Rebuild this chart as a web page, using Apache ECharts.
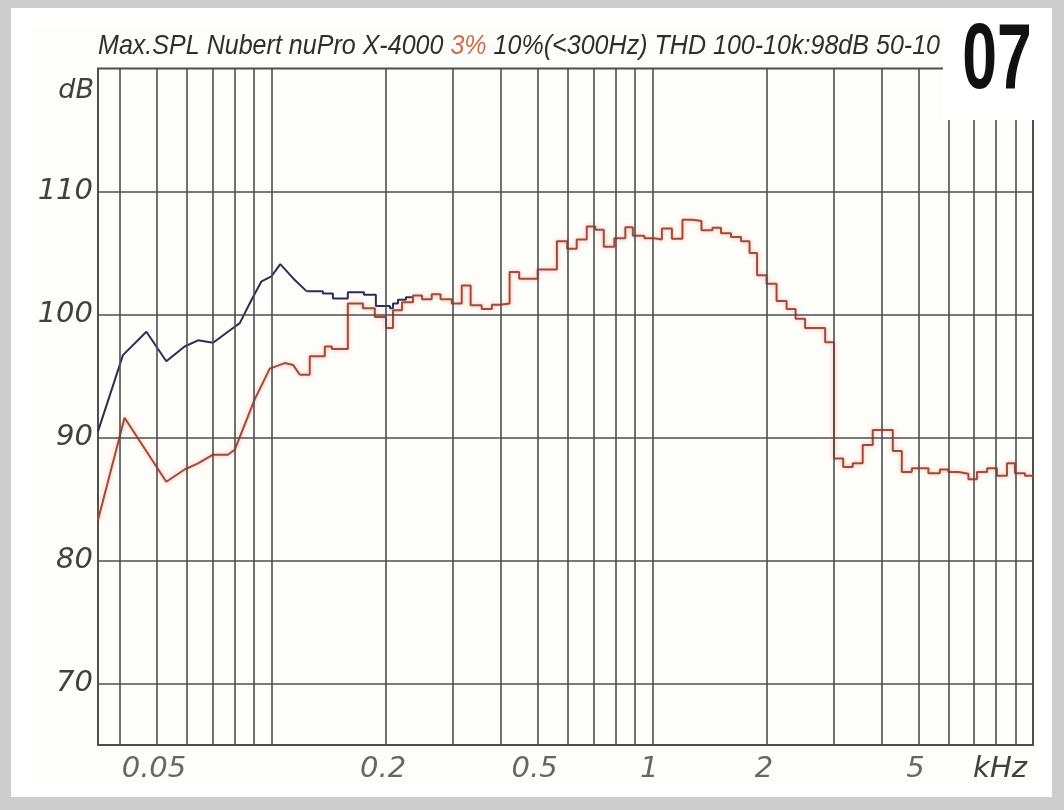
<!DOCTYPE html>
<html><head><meta charset="utf-8">
<script src="https://cdn.jsdelivr.net/npm/echarts@6/dist/echarts.min.js"></script>
<style>html,body{margin:0;padding:0;background:#cdcdcd}#c{width:1064px;height:810px}</style>
</head><body><div id="c"></div>
<script>
// ---- data (frequency in kHz, level in dB) ----
const navySweepFreq = [0.035, 0.0407, 0.0469, 0.0529, 0.0591, 0.0641, 0.0702, 0.0768, 0.0825, 0.0886, 0.0941, 0.0999, 0.1054, 0.1151, 0.1235];
const navySweepDb   = [90.5, 96.7, 98.6, 96.2, 97.4, 97.9, 97.7, 98.6, 99.3, 101.2, 102.7, 103.1, 104.1, 102.8, 101.9];
const navyStepFreq  = [0.1235, 0.1364, 0.1449, 0.1586, 0.1748, 0.1879, 0.2046, 0.2084, 0.2148, 0.2254, 0.2352];
const navyStepDb    = [101.9, 101.7, 101.3, 101.8, 101.6, 100.7, 100.5, 100.9, 101.2, 101.4, 101.5];

const redSweepFreq = [0.035, 0.0411, 0.0529, 0.0591, 0.0641, 0.0702, 0.0768, 0.0800, 0.0903, 0.0989, 0.1083, 0.1139, 0.1186];
const redSweepDb   = [83.3, 91.6, 86.4, 87.4, 87.9, 88.6, 88.6, 89.0, 93.1, 95.6, 96.05, 95.9, 95.1];
const redStepFreq = [0.1186, 0.1260, 0.1380, 0.1440, 0.1586, 0.1738, 0.1867, 0.1998, 0.2084, 0.2202,
  0.2352, 0.2484, 0.2634, 0.2779, 0.2974, 0.3159, 0.3333, 0.3563, 0.3790, 0.3986,
  0.4220, 0.4471, 0.5000, 0.5616, 0.5978, 0.6332, 0.6727, 0.7085, 0.7458, 0.7949,
  0.8495, 0.8890, 0.9533, 1.0128, 1.0599, 1.1261, 1.2002, 1.2751, 1.3465, 1.4392,
  1.5152, 1.6099, 1.7105, 1.8010, 1.8846, 1.9964, 2.1208, 2.2531, 2.3790, 2.5199,
  2.8451, 3.0010, 3.1730, 3.3606, 3.5703, 3.7937, 4.2829, 4.5230, 4.8050, 5.3114,
  5.6929, 5.9964, 6.3680, 6.7664, 7.1245, 7.5784, 8.0390, 8.5430, 8.9650, 9.5260, 10.0];
const redStepDb = [95.1, 96.6, 97.4, 97.2, 100.9, 100.5, 99.8, 98.9, 100.35, 101.0,
  101.55, 101.25, 101.65, 101.25, 100.9, 102.35, 100.75, 100.45, 100.8, 100.9,
  103.45, 102.9, 103.65, 105.95, 105.35, 106.1, 107.15, 106.9, 105.5, 106.2,
  107.1, 106.4, 106.2, 106.1, 107.0, 106.15, 107.7, 107.6, 106.85, 107.05,
  106.6, 106.3, 105.95, 105.0, 103.2, 102.5, 101.1, 100.45, 99.65, 98.9,
  97.75, 88.3, 87.6, 87.9, 89.4, 90.6, 88.9, 87.2, 87.5, 87.1,
  87.4, 87.2, 87.05, 86.6, 87.2, 87.5, 86.9, 87.9, 87.1, 86.9, 86.9];

const xGridFreqs = [0.04,0.05,0.06,0.07,0.08,0.09,0.1,0.2,0.3,0.4,0.5,0.6,0.7,0.8,0.9,1,2,3,4,5,6,7,8,9];
const yGridDb = [70, 80, 90, 100, 110];
const xTickVals = [0.05, 0.2, 0.5, 1, 2, 5];
const xTickLabels = ['0.05', '0.2', '0.5', '1', '2', '5'];
const titleMain1 = 'Max.SPL Nubert nuPro X-4000 ';
const titleRed = '3%';
const titleMain2 = ' 10%(<300Hz) THD 100-10k:98dB 50-10';

const zip = (a, b) => a.map((v, i) => [v, b[i]]);

const NAVY = '#2b2d58';
const RED = '#a44a36';
const GRID = '#4e4e4e';
const LBL = { fontFamily: 'DejaVu Sans', fontStyle: 'italic', fontSize: 29, color: '#404040' };
const TTL = { fontFamily: 'Liberation Sans', fontStyle: 'italic', fontSize: 28 };

const chart = echarts.init(document.getElementById('c'), null, { renderer: 'canvas' });
chart.setOption({
  animation: false,
  backgroundColor: '#cdcdcd',
  grid: { left: 98, top: 68.5, right: 31, bottom: 65, show: true, borderColor: GRID, borderWidth: 2, backgroundColor: 'transparent' },
  xAxis: {
    type: 'log', logBase: 10, min: 0.035, max: 10,
    axisLine: { show: false }, axisTick: { show: false }, axisLabel: { show: false }, splitLine: { show: false }
  },
  yAxis: {
    type: 'value', min: 65, max: 120, interval: 5,
    axisLine: { show: false }, axisTick: { show: false }, splitLine: { show: false },
    axisLabel: Object.assign({ margin: 5, formatter: v => (v % 10 === 0 && v < 120) ? String(v) : '' }, LBL)
  },
  graphic: [
    { type: 'rect', z: -10, silent: true, shape: { x: 11, y: 8, width: 1041, height: 789 }, style: { fill: '#ffffff' } },
    { type: 'rect', z: -9, silent: true, shape: { x: 30, y: 27, width: 1002, height: 756 }, style: { fill: '#fdfdfa' } },
    {
      type: 'text', silent: true, x: 98, y: 46, scaleX: 0.895,
      style: {
        text: '{a|' + titleMain1 + '}{b|' + titleRed + '}{a|' + titleMain2 + '}',
        textAlign: 'left', textVerticalAlign: 'middle',
        rich: {
          a: Object.assign({ fill: '#2e2e2e' }, TTL),
          b: Object.assign({ fill: '#c9714f' }, TTL)
        }
      }
    },
    { type: 'text', silent: true, x: 94, y: 91, style: { text: 'dB', font: 'italic 27px "DejaVu Sans"', fill: '#404040', textAlign: 'right', textVerticalAlign: 'middle' } },
    { type: 'text', silent: true, x: 1000, y: 769, style: { text: 'kHz', font: 'italic 29px "DejaVu Sans"', fill: '#404040', textAlign: 'center', textVerticalAlign: 'middle' } },
    { type: 'rect', z: 100, silent: true, shape: { x: 943, y: 8, width: 109, height: 112 }, style: { fill: '#ffffff' } },
    { type: 'text', z: 101, silent: true, x: 997, y: 63, scaleX: 0.68, style: { text: '07', font: 'bold 92px "Liberation Sans"', fill: '#111111', textAlign: 'center', textVerticalAlign: 'middle' } }
  ],
  series: [
    {
      type: 'line', name: 'grid', data: [], silent: true, z: 1,
      markLine: {
        silent: true, symbol: ['none', 'none'], label: { show: false }, animation: false,
        lineStyle: { color: GRID, width: 1.6, type: 'solid' },
        emphasis: { disabled: true },
        data: xGridFreqs.map(f => ({ xAxis: f })).concat(yGridDb.map(d => ({ yAxis: d })))
      }
    },
    {
      type: 'scatter', name: 'ticks', silent: true, clip: false, symbolSize: 0,
      data: xTickVals.map(v => [v, 65]),
      label: Object.assign({ show: true, position: 'bottom', distance: 10, offset: [-3, 0], formatter: p => xTickLabels[p.dataIndex] }, LBL)
    },
    { type: 'line', name: 'navy sweep', data: zip(navySweepFreq, navySweepDb), showSymbol: false, z: 3, lineStyle: { color: NAVY, width: 2 } },
    { type: 'line', name: 'navy step', step: 'end', data: zip(navyStepFreq, navyStepDb), showSymbol: false, z: 3, lineStyle: { color: NAVY, width: 2 } },
    { type: 'line', name: 'red sweep', data: zip(redSweepFreq, redSweepDb), showSymbol: false, z: 4, lineStyle: { color: RED, width: 2, shadowColor: 'rgba(235,120,100,0.55)', shadowBlur: 4 } },
    { type: 'line', name: 'red step', step: 'end', data: zip(redStepFreq, redStepDb), showSymbol: false, z: 4, lineStyle: { color: RED, width: 2, shadowColor: 'rgba(235,120,100,0.55)', shadowBlur: 4 } }
  ]
});
</script></body></html>
